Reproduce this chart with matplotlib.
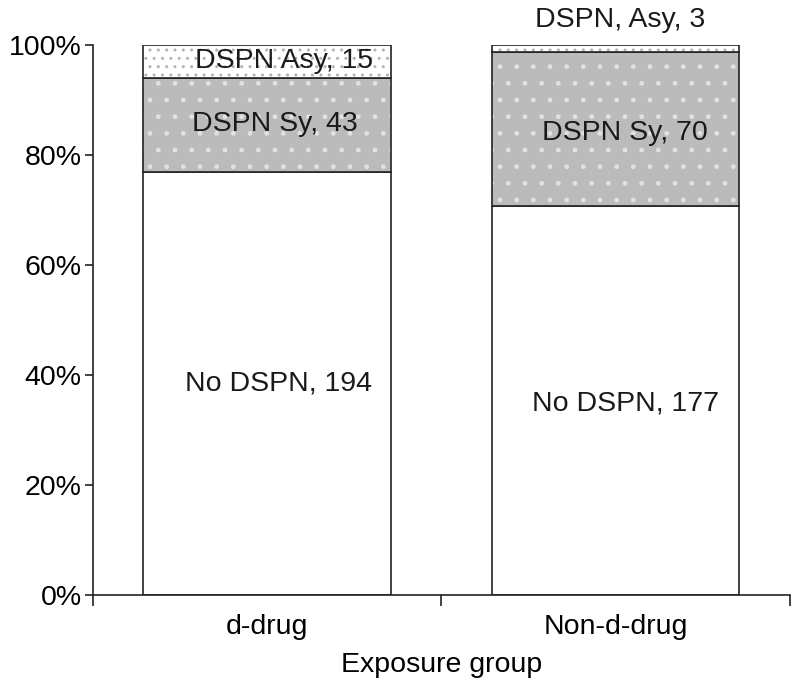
import matplotlib
matplotlib.use("Agg")
import matplotlib.pyplot as plt
import numpy as np

plt.rcParams['font.family'] = ['Liberation Sans', 'DejaVu Sans']

categories = ["d-drug", "Non-d-drug"]
no_dspn = [194, 177]
dspn_sy = [43, 70]
dspn_asy = [15, 3]
segment_names = ["No DSPN", "DSPN Sy", "DSPN Asy"]
yticks = [0, 20, 40, 60, 80, 100]

counts = np.array([no_dspn, dspn_sy, dspn_asy], dtype=float)
pct = counts / counts.sum(axis=0) * 100

# label text and positions (x offset in category units, y in %)
labels = [
    [f"No DSPN, {no_dspn[0]}", f"No DSPN, {no_dspn[1]}"],
    [f"DSPN Sy, {dspn_sy[0]}", f"DSPN Sy, {dspn_sy[1]}"],
    [f"DSPN Asy, {dspn_asy[0]}", f"DSPN, Asy, {dspn_asy[1]}"],
]
label_x = [[0.034, 1.027], [0.023, 1.027], [0.05, 1.013]]
label_y = [[38.5, 34.9], [85.6, 84.0], [97.1, 104.5]]

fig = plt.figure(figsize=(8, 6.93), dpi=100)
ax = fig.add_axes([0.116, 0.1414, 0.8715, 0.7936])

x = np.arange(len(categories))
width = 0.71
faces = ["white", "#bbbbbb", "white"]
hatch_cols = [None, "#e2e2e2", "#b4b4b4"]
hatches = [None, ".", ".."]
bottom = np.zeros(len(categories))
for i in range(3):
    if hatch_cols[i] is None:
        ax.bar(x, pct[i], width, bottom=bottom, color=faces[i], linewidth=0)
    else:
        ax.bar(x, pct[i], width, bottom=bottom, facecolor=faces[i],
               edgecolor=hatch_cols[i], hatch=hatches[i], linewidth=0)
    ax.bar(x, pct[i], width, bottom=bottom, facecolor='none',
           edgecolor='#222222', linewidth=1.2)
    bottom += pct[i]

for i in range(3):
    for j in range(len(categories)):
        ax.text(label_x[i][j], label_y[i][j], labels[i][j], ha='center',
                va='center', fontsize=20.5, color='#1a1a1a', clip_on=False)

ax.set_xlim(-0.5, 1.5)
ax.set_ylim(0, 100)
ax.set_yticks(yticks)
ax.set_yticklabels([f"{t}%" for t in yticks])
ax.set_xticks([-0.5, 0.5, 1.5])
ax.set_xticklabels([])
ax.set_xticks(x, minor=True)
ax.set_xticklabels(categories, minor=True)
ax.tick_params(axis='x', which='minor', length=0, pad=14, labelsize=20.5)
ax.tick_params(axis='x', which='major', length=8, width=1.2, color='#222222')
ax.tick_params(axis='y', length=6, width=1.2, labelsize=20.5, pad=2, color='#222222')
ax.set_xlabel("Exposure group", fontsize=20.5, labelpad=8)
for s in ['top', 'right']:
    ax.spines[s].set_visible(False)
for s in ['left', 'bottom']:
    ax.spines[s].set_linewidth(1.2)
    ax.spines[s].set_color('#222222')

fig.savefig("out.png", dpi=100)
